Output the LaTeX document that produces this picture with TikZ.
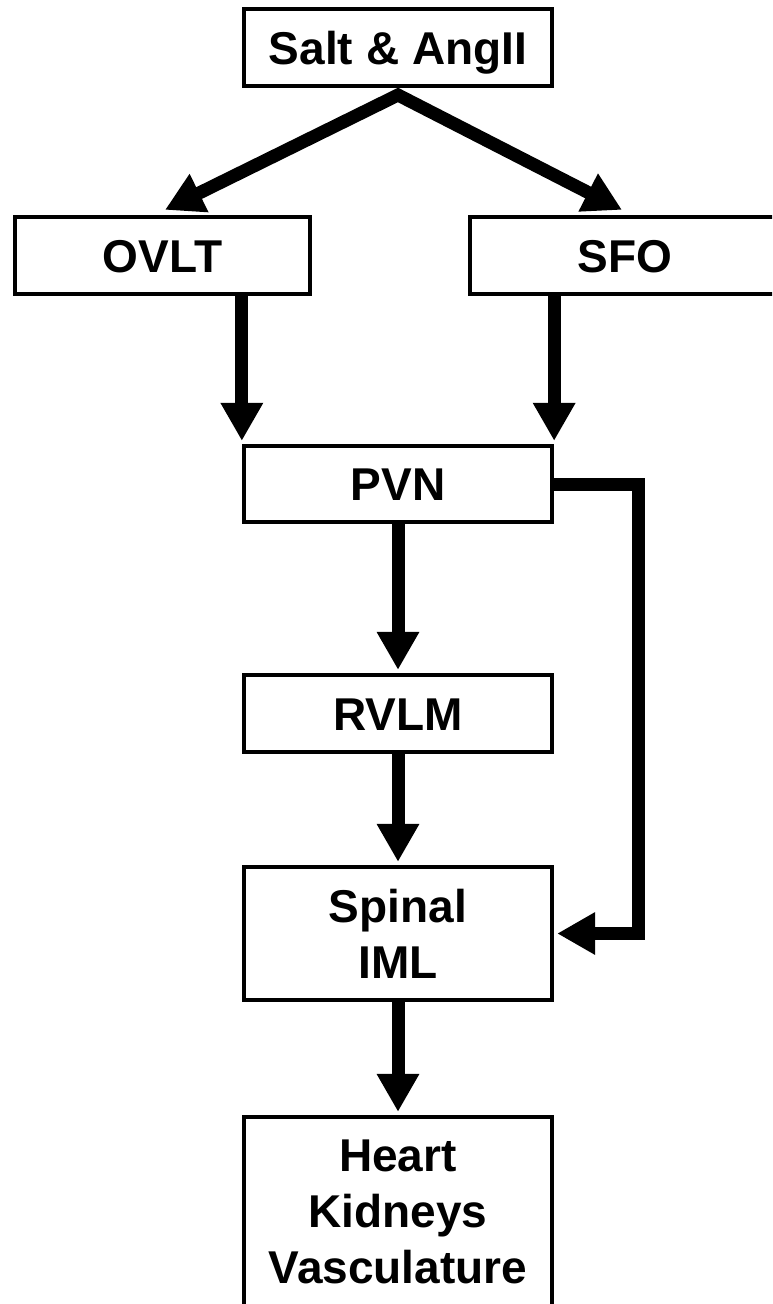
\documentclass[tikz,border=0pt]{standalone}
\usepackage{fontspec}
\setmainfont{Liberation Sans}
\usetikzlibrary{arrows.meta,calc}
\begin{document}
\begin{tikzpicture}[x=1pt,y=1pt,
  box/.style={draw=black, line width=4.3pt, fill=white, inner sep=0pt,
    align=center, font=\fontsize{46}{56}\selectfont\bfseries},
  oneline/.style={text height=33pt, text depth=0pt},
  arr/.style={line width=13pt, line join=miter,
    -{Triangle[length=38pt,width=40pt]}},
  arrboth/.style={line width=13pt, line join=miter,
    {Triangle[length=38pt,width=40pt]}-{Triangle[length=38pt,width=40pt]}}]
\useasboundingbox (0,0) rectangle (772,-1304);
\fill[white] (0,0) rectangle (772,-1304);
\clip (0,0) rectangle (772,-1304);

\node[box,oneline,minimum width=308pt,minimum height=77pt] (salt) at (398,-47.5) {Salt \& AngII};
\node[box,oneline,minimum width=295pt,minimum height=77pt] (ovlt) at (162.5,-255.5) {OVLT};
\node[box,oneline,minimum width=310pt,minimum height=77pt] (sfo) at (625,-255.5) {SFO};
\node[box,oneline,minimum width=308pt,minimum height=76pt] (pvn) at (398,-484) {PVN};
\node[box,oneline,minimum width=308pt,minimum height=77pt] (rvlm) at (398,-713.5) {RVLM};
\node[box,minimum width=308pt,minimum height=133pt] (spinal) at (398,-933.5) {Spinal\\IML};
\node[box,minimum width=308pt,minimum height=189pt] (heart) at (398,-1211.5) {Heart\\Kidneys\\Vasculature};

\coordinate (apex) at (398,-95);
\coordinate (elb) at (638,-484);

\draw[arrboth] ([shift={(2.5,5)}]ovlt.north) -- (apex) -- ([shift={(-3,5)}]sfo.north);
\draw[arr] (ovlt.south -| pvn.north west) -- ([yshift=3pt]pvn.north west);
\draw[arr] (sfo.south -| pvn.north east) -- ([yshift=3pt]pvn.north east);
\draw[arr] (pvn.south) -- ([yshift=3pt]rvlm.north);
\draw[arr] (rvlm.south) -- ([yshift=3pt]spinal.north);
\draw[arr] (spinal.south) -- ([yshift=3pt]heart.north);
\draw[arr] (pvn.east) -- (elb) |- ([xshift=3pt]spinal.east);
\end{tikzpicture}
\end{document}
